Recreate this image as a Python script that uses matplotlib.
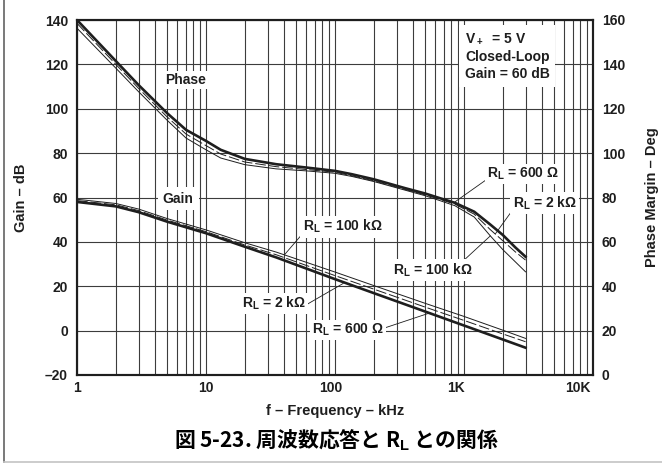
import matplotlib
matplotlib.use('Agg')
import matplotlib.pyplot as plt
from matplotlib.lines import Line2D
from matplotlib.ticker import LogLocator, NullFormatter, FixedLocator
from matplotlib.transforms import ScaledTranslation

plt.rcParams['font.family'] = ['Liberation Sans', 'DejaVu Sans']
plt.rcParams['font.weight'] = 'bold'
plt.rcParams['axes.labelweight'] = 'bold'
plt.rcParams['mathtext.fontset'] = 'custom'
plt.rcParams['mathtext.rm'] = 'Liberation Sans:bold'
plt.rcParams['mathtext.it'] = 'Liberation Sans:bold'
plt.rcParams['mathtext.bf'] = 'Liberation Sans:bold'

# frequency in kHz
phase_f = [1, 2, 3, 5, 7, 10, 13, 20, 35, 60, 100, 135, 200, 350, 500, 650, 850, 1200, 1600, 2000, 2500, 3000]
phase_600 = [160, 141.5, 130.7, 118.0, 110.5, 105.5, 101.5, 97.4, 95.0, 93.5, 92.0, 90.5, 88.2, 84.2, 81.8, 79.7, 77.6, 73.6, 67.8, 63.1, 57.5, 53.3]
phase_2k = [158.5, 140.0, 129.2, 116.3, 108.6, 103.4, 99.6, 96.0, 93.9, 92.6, 91.4, 89.8, 87.5, 83.6, 81.2, 79.2, 77.0, 72.5, 65.5, 60.5, 55.5, 51.8]
phase_100k = [156.3, 138.3, 127.7, 114.8, 106.8, 101.5, 97.8, 94.8, 92.9, 92.0, 90.9, 89.5, 87.2, 83.3, 80.8, 78.6, 76.3, 71.2, 62.7, 56.5, 51.0, 46.5]

gain_f = [1, 2, 3, 5, 10, 20, 35, 100, 200, 500, 1000, 2000, 3000]
gain_600 = [58.0, 56.0, 53.4, 49.1, 43.9, 37.8, 33.0, 23.2, 16.9, 8.6, 2.3, -4.0, -7.7]
gain_2k = [58.6, 56.7, 54.1, 49.8, 44.6, 38.6, 34.2, 24.8, 18.7, 10.6, 4.6, -1.5, -5.0]
gain_100k = [59.2, 57.3, 54.8, 50.5, 45.4, 39.6, 35.4, 26.4, 20.3, 12.3, 6.4, 0.2, -3.5]

xticks = [1, 10, 100, 1000, 10000]
xlabels = ['1', '10', '100', '1K', '10K']
gain_ticks = list(range(-20, 141, 20))
gain_labels = ['–20'] + [str(v) for v in gain_ticks[1:]]
phase_ticks = list(range(0, 161, 20))

ink = '#1e1e1e'
gridc = '#3c3c3c'

fig = plt.figure(figsize=(6.62, 4.63), dpi=100)
ax = fig.add_axes([77 / 662, 1 - 375 / 463, 516 / 662, 355 / 463])
ax.set_xscale('log')
ax.set_xlim(1, 10000)
ax.set_ylim(-20, 140)
ax.xaxis.set_major_locator(FixedLocator(xticks))
ax.set_xticklabels(xlabels)
ax.xaxis.set_minor_locator(LogLocator(base=10, subs=range(2, 10)))
ax.xaxis.set_minor_formatter(NullFormatter())
ax.set_yticks(gain_ticks)
ax.set_yticklabels(gain_labels)
ax.grid(which='both', axis='x', color=gridc, lw=0.8)
ax.grid(which='major', axis='y', color=gridc, lw=0.8)
ax.tick_params(which='both', length=0, labelsize=10, colors=ink)
ax.tick_params(axis='y', pad=6.5)
ax.tick_params(axis='x', pad=4)

ax.plot(gain_f, gain_600, color=ink, lw=1.9)
ax.plot(gain_f, gain_2k, color=ink, lw=0.7, ls=(0, (11, 3)))
ax.plot(gain_f, gain_100k, color=ink, lw=0.7)

ax2 = ax.twinx()
ax2.set_ylim(0, 160)
ax2.set_yticks(phase_ticks)
ax2.tick_params(length=0, labelsize=10, pad=6.3, colors=ink)
ax2.plot(phase_f, phase_600, color=ink, lw=1.9)
ax2.plot(phase_f, phase_2k, color=ink, lw=0.7, ls=(0, (11, 3)))
ax2.plot(phase_f, phase_100k, color=ink, lw=0.7)

for a in (ax, ax2):
    for s in a.spines.values():
        s.set_linewidth(1.5)
        s.set_color(ink)

ax.set_xlabel('f – Frequency – kHz', fontsize=10.5, color=ink, labelpad=7)
ax.set_ylabel('Gain – dB', fontsize=10.5, color=ink)
ax.yaxis.set_label_coords(-0.094, 0.5)
ax2.set_ylabel('Phase Margin – Deg', fontsize=10.5, color=ink)
ax2.yaxis.set_label_coords(1.1, 0.5)

box = dict(fc='white', ec='none', pad=1.5)
line = dict(arrowstyle='-', lw=0.6, color=ink, shrinkA=0, shrinkB=0)

# curve names
ax2.text(6.9, 133, 'Phase', ha='center', va='center', fontsize=10, color=ink, bbox=box)
ax.text(6.1, 59.5, 'Gain', ha='center', va='center', fontsize=10, color=ink,
        bbox=dict(fc='white', ec='none', pad=3.5))

ax2.text(0.752, 0.968, 'V$_+$  = 5 V\nClosed-Loop\nGain = 60 dB', transform=ax2.transAxes,
         ha='left', va='top', fontsize=10, color=ink, linespacing=1.35,
         bbox=dict(fc='white', ec='none', pad=4))

# phase load labels
ax2.annotate('R$_\\mathrm{L}$ = 600 Ω', xy=(850, 78), xytext=(1520, 90.6), ha='left', va='center',
             fontsize=10, color=ink, bbox=box, arrowprops=dict(line, relpos=(0, 0.2)))
ax2.annotate('R$_\\mathrm{L}$ = 2 kΩ', xy=(1750, 63.6), xytext=(2380, 77.5), ha='left', va='center',
             fontsize=10, color=ink, bbox=box, arrowprops=dict(line, relpos=(0, 0.1)))
ax2.annotate('R$_\\mathrm{L}$ = 100 kΩ', xy=(1600, 62.7), xytext=(570, 47.3), ha='center', va='center',
             fontsize=10, color=ink, bbox=box, arrowprops=dict(line, relpos=(0.88, 1)))

# gain load labels
ax.annotate('R$_\\mathrm{L}$ = 100 kΩ', xy=(41, 34.5), xytext=(56, 46.8), ha='left', va='center',
            fontsize=10, color=ink, bbox=box, arrowprops=dict(line, relpos=(0, 0.1)))
ax.annotate('R$_\\mathrm{L}$ = 2 kΩ', xy=(116, 21.3), xytext=(18.9, 12.3), ha='left', va='center',
            fontsize=10, color=ink, bbox=box, arrowprops=dict(line, relpos=(1, 0.4)))
ax.annotate('R$_\\mathrm{L}$ = 600 Ω', xy=(545, 8), xytext=(66, 0.3), ha='left', va='center',
            fontsize=10, color=ink, bbox=box, arrowprops=dict(line, relpos=(1, 0.6)))

# shift the K labels a little left, as in the printed chart
shift = {'100': -4, '1K': -8, '10K': -15}
for lab in ax.get_xticklabels():
    dx = shift.get(lab.get_text(), 0)
    if dx:
        lab.set_transform(lab.get_transform() + ScaledTranslation(dx / 100, 0, fig.dpi_scale_trans))

fig.text(0.509, 1 - 440 / 463, '図 5-23. 周波数応答と R$_\\mathrm{L}$ との関係', ha='center', va='center',
         fontsize=15, color='black', family=['Noto Sans CJK JP', 'DejaVu Sans'], weight='bold')

# page frame
fig.add_artist(Line2D([4 / 662, 4 / 662], [1 - 462 / 463, 1], transform=fig.transFigure, color='#555555', lw=1.1))
fig.add_artist(Line2D([4 / 662, 1], [1 - 462 / 463, 1 - 462 / 463], transform=fig.transFigure, color='#c4c4c4', lw=1.2))

fig.savefig('out.png', dpi=100)
